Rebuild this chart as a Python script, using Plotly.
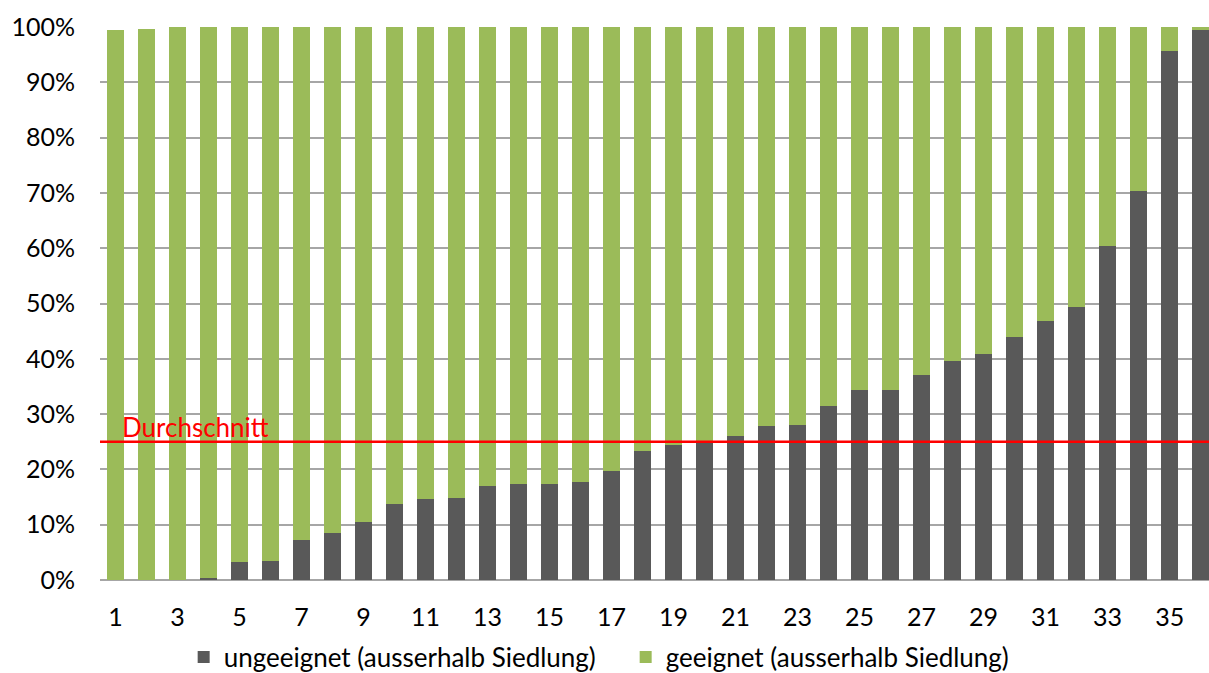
import plotly.graph_objects as go

categories = list(range(1, 37))
ungeeignet = [0, 0, 0, 0.3, 3.3, 3.5, 7.2, 8.5, 10.4, 13.8,
              14.6, 14.8, 17.0, 17.4, 17.4, 17.8, 19.7, 23.3, 24.4, 25.0,
              26.1, 27.9, 28.0, 31.5, 34.4, 34.4, 37.0, 39.6, 40.8, 44.0,
              46.8, 49.4, 60.4, 70.4, 95.6, 99.4]
geeignet_total = [99.5, 99.7] + [100] * 34
geeignet = [t - u for t, u in zip(geeignet_total, ungeeignet)]
durchschnitt = 25
y_ticks = list(range(0, 101, 10))
y_labels = [f"{v}%" for v in y_ticks]
x_ticks = list(range(1, 37, 2))

FONT = "Lato"
FS = 25
DARK = "#595959"
GREEN = "#9BBB59"

fig = go.Figure()
fig.add_trace(go.Bar(x=categories, y=ungeeignet, name="ungeeignet (ausserhalb Siedlung)",
                     marker=dict(color=DARK, line=dict(width=0))))
fig.add_trace(go.Bar(x=categories, y=geeignet, name="geeignet (ausserhalb Siedlung)",
                     marker=dict(color=GREEN, line=dict(width=0))))

fig.add_shape(type="line", xref="paper", yref="y", x0=0, x1=1, y0=durchschnitt, y1=durchschnitt,
              line=dict(color="#FF0000", width=2.5))
fig.add_annotation(xref="x", yref="y", x=1.15, y=durchschnitt, text="Durchschnitt",
                   showarrow=False, xanchor="left", yanchor="bottom", yshift=-3,
                   font=dict(family=FONT, size=26, color="#FF0000"))

fig.update_layout(
    barmode="stack",
    bargap=0.43,
    width=1209, height=673,
    margin=dict(l=100, r=0, t=27, b=93, autoexpand=False),
    plot_bgcolor="white", paper_bgcolor="white",
    font=dict(family=FONT, size=FS, color="#000000"),
    showlegend=True,
    legend=dict(orientation="h", x=0.474, xanchor="center",
                y=-0.1395, yanchor="middle",
                font=dict(family=FONT, size=26, color="#000000"),
                entrywidth=397, entrywidthmode="pixels", traceorder="normal"),
    xaxis=dict(range=[0.5, 36.27], tickvals=x_ticks, ticktext=[str(v) for v in x_ticks],
               showgrid=False, showline=False, zeroline=False, ticks="", automargin=False,
               ticklabelstandoff=20, tickfont=dict(family=FONT, size=FS)),
    yaxis=dict(range=[0, 100], tickvals=y_ticks, ticktext=y_labels,
               showgrid=True, gridcolor="#A6A6A6", gridwidth=1.5,
               zeroline=True, zerolinecolor="#A6A6A6", zerolinewidth=1.5, automargin=False,
               showline=False, ticks="", ticklabelstandoff=24,
               tickfont=dict(family=FONT, size=FS)),
)

fig.write_html("out.html")
